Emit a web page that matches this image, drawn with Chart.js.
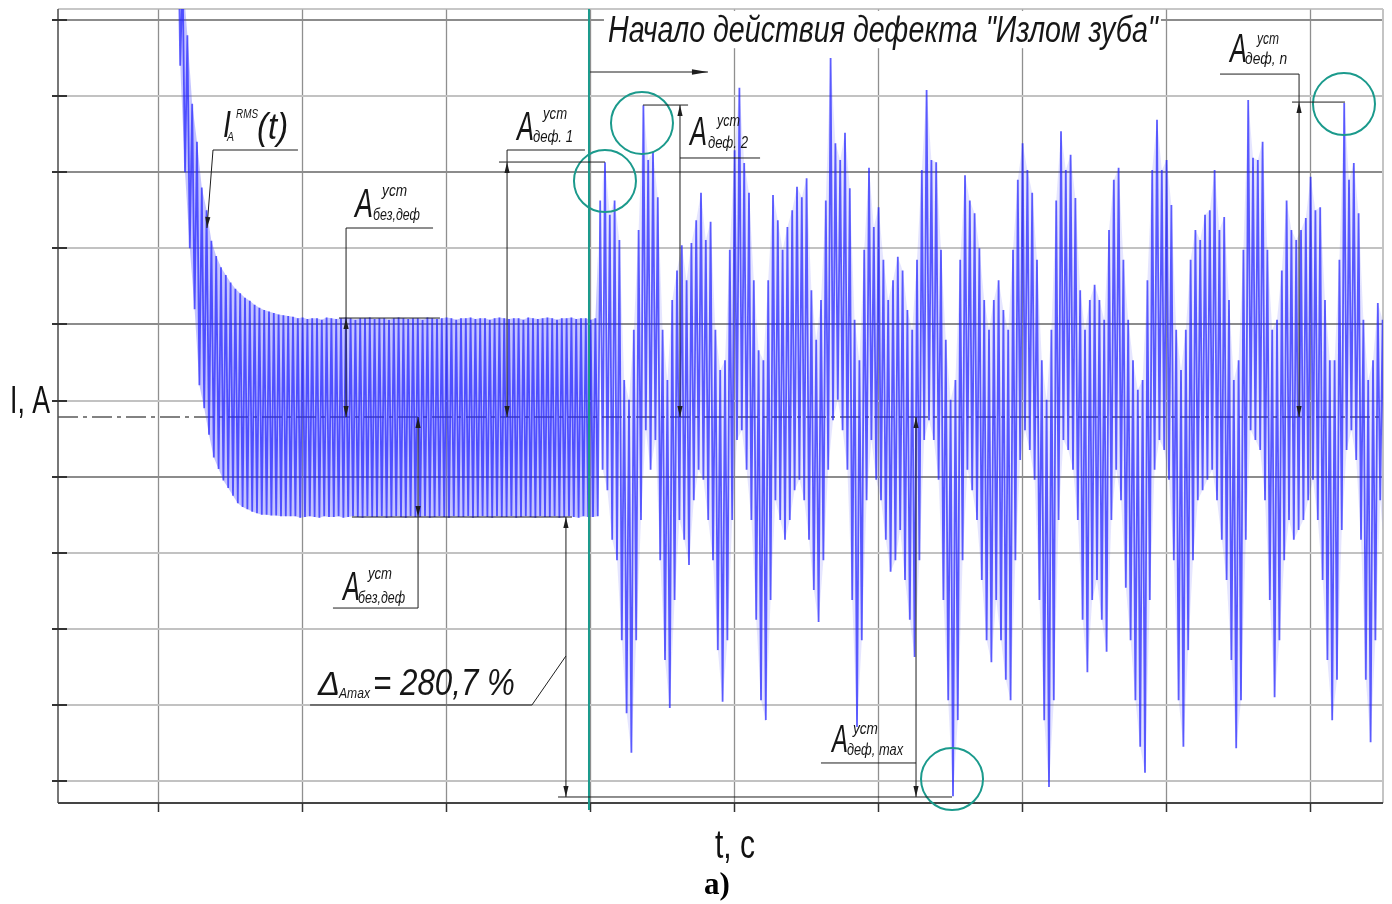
<!DOCTYPE html>
<html><head><meta charset="utf-8">
<script src="https://cdn.jsdelivr.net/npm/chart.js@4.4.1/dist/chart.umd.min.js"></script>
<style>html,body{margin:0;padding:0;background:#fff;overflow:hidden}canvas{display:block}</style>
</head><body><canvas id="c" width="1392" height="904"></canvas>
<script>
// ---------- DATA (grid units: x gridlines every 10, y gridlines every 10) ----------
const xGridTicks = [0,10,20,30,40,50,60,70,80];
const yGridTicks = [0,10,20,30,40,50,60,70,80,90,100];
const sampleStart = 1.375;      // time of first sample
const sampleStep = 1/6;         // time between successive extrema
// start-up transient: successive maxima / minima of I_A(t)
const transientPeaks = [118,106,98,89,84,78,75,71,69,67.5,66.5,65.5,64.7,64.1,63.5,63.1,62.6,62.2,61.9,61.7,61.5,61.3,61.2,61.1,61.0];
const transientTroughs = [94,80,70,62,52,49,45.5,42.5,41,39.5,38.5,37.5,36.5,36,35.7,35.4,35.2,35,35,34.9,34.9,34.8,34.8,34.8];
// steady state without defect
const steadyPeaks = [60.8,60.9,60.7,60.8,60.8,60.6,60.9,60.8,60.7,60.8,60.9,60.8,60.6,60.8,60.8,60.9,60.7,60.8,60.8,60.6,60.8,60.9,60.8,60.7,60.8,60.8,60.6,60.9,60.8,60.7,60.8,60.9,60.8,60.6,60.8,60.8,60.9,60.7,60.8,60.8,60.6,60.8,60.9,60.8,60.7,60.8,60.8,60.6,60.9,60.8,60.7,60.8,60.9,60.8,60.6,60.8,60.8,60.9,60.7,60.8,60.8,60.6,60.8];
const steadyTroughs = [34.8,34.6,34.7,34.8,34.7,34.6,34.8,34.7,34.7,34.8,34.6,34.7,34.8,34.7,34.6,34.8,34.7,34.7,34.8,34.6,34.7,34.8,34.7,34.6,34.8,34.7,34.7,34.8,34.6,34.7,34.8,34.7,34.6,34.8,34.7,34.7,34.8,34.6,34.7,34.8,34.7,34.6,34.8,34.7,34.7,34.8,34.6,34.7,34.8,34.7,34.6,34.8,34.7,34.7,34.8,34.6,34.7,34.8,34.7,34.6,34.8,34.7,34.7,34.8];
// after the "tooth fracture" defect starts
const defectPeaks = [
76.3,81.3,74.4,76.3,71.1,52.7,50.1,59.3,72.4,88.8,
81.6,82.7,76.7,59.3,52.7,63.2,67.1,70.4,65.8,70.7,
73.7,77.3,71.1,73.5,59.3,54.0,55.3,69.8,82.9,91.1,
81.2,77.3,65.8,56.6,55.3,65.8,77.0,73.7,69.8,72.8,
75.0,78.1,76.7,79.2,64.5,58.0,63.2,76.3,95.0,83.8,
81.6,85.2,77.9,60.6,55.3,69.8,80.6,72.8,75.4,68.5,
63.2,65.8,68.9,67.1,61.9,59.3,68.5,80.3,90.8,81.6,
81.3,69.8,58.0,50.1,52.7,68.5,79.6,76.3,74.6,70.0,
63.2,59.3,63.2,65.8,61.9,59.3,69.8,79.0,83.8,80.3,
77.3,68.5,55.3,50.1,59.3,76.3,85.4,80.3,82.3,76.6,
64.5,59.3,63.2,65.2,63.2,60.6,72.4,79.0,80.6,68.5,
60.6,55.3,51.4,52.7,65.8,80.3,86.9,80.3,81.6,75.7,
59.3,54.0,59.3,68.5,72.4,71.1,74.4,75.0,80.3,72.4,
74.1,63.2,52.7,55.3,69.8,89.5,81.9,81.6,84.0,69.8,
59.3,60.6,67.1,76.3,72.4,71.1,72.4,74.0,79.4,75.0,
75.4,63.2,55.3,55.3,68.5,89.1,79.0,81.2,74.6,60.6,
52.7,55.3,62.8,60.6];
const defectTroughs = [
40.9,38.2,31.7,29.0,18.5,8.9,3.7,18.5,34.3,46.1,
40.9,44.8,29.0,15.9,9.6,23.8,34.3,31.7,28.4,36.9,
40.9,39.6,34.3,29.0,17.2,10.4,18.5,34.3,44.8,46.1,
40.9,34.3,21.2,10.6,8.0,23.8,36.9,34.3,31.7,34.3,
38.2,39.6,36.9,31.7,25.1,20.9,29.0,40.9,47.4,50.1,
46.1,40.9,23.8,7.1,18.5,36.9,44.8,39.6,36.9,31.7,
27.5,29.0,33.0,26.4,21.2,16.3,29.0,44.8,47.4,44.8,
39.6,23.8,10.6,-2.0,8.0,29.0,40.9,38.2,34.3,26.4,
18.5,15.6,23.8,18.5,13.3,10.6,29.0,42.2,46.1,43.5,
39.6,23.8,8.0,-0.8,10.6,34.3,44.8,43.5,40.9,34.3,
21.2,14.3,23.8,26.4,21.2,17.0,34.3,40.9,36.9,25.4,
18.5,10.6,4.5,1.1,23.8,40.9,44.8,43.5,39.6,29.0,
10.6,4.5,17.2,29.0,36.9,38.2,39.6,40.9,36.9,31.7,
26.4,15.9,4.3,10.6,31.7,46.1,44.8,43.5,36.9,23.8,
11.0,18.5,29.0,34.3,31.7,33.0,34.3,36.9,39.6,34.3,
26.4,15.9,8.0,13.3,33.0,43.5,46.1,42.2,31.7,13.3,
5.1,18.5,36.9,29.0];
const steadyLevel = 47.83;   // dash-dot mean line
const defectStart = 29.93;   // start of the defect (teal line)
const titleText = 'Начало действия дефекта "Излом зуба"';
const xAxisTitle = 't, c';
const yAxisTitle = 'I, A';
const captionText = 'а)';

// ---------- build series ----------
const peaks = [...transientPeaks, ...steadyPeaks, ...defectPeaks];
const troughs = [...transientTroughs, ...steadyTroughs, ...defectTroughs];
const series = [];
for (let k = 0; k < peaks.length; k++) { series.push(peaks[k]); if (k < troughs.length) series.push(troughs[k]); }
const points = series.map((v, i) => ({ x: sampleStart + i * sampleStep, y: v }));
const nLeft = transientPeaks.length + steadyPeaks.length;   // extrema pairs before the defect
const peakPts = peaks.map((v, k) => ({ x: sampleStart + 2*k*sampleStep, y: v }));
const troughPts = troughs.map((v, k) => ({ x: sampleStart + (2*k+1)*sampleStep, y: v }));

// ---------- helpers ----------
const X = (c, t) => c.scales.x.getPixelForValue(t);
const Y = (c, v) => c.scales.y.getPixelForValue(v);
function seg(ctx, c, a, b) { ctx.beginPath(); ctx.moveTo(X(c,a[0]), Y(c,a[1])); ctx.lineTo(X(c,b[0]), Y(c,b[1])); ctx.stroke(); }
function head(ctx, c, tip, from, len, half) {
  len = len || 11; half = half || 2.6;
  const x = X(c,tip[0]), y = Y(c,tip[1]), fx = X(c,from[0]), fy = Y(c,from[1]);
  let dx = x - fx, dy = y - fy; const d = Math.hypot(dx,dy) || 1; dx /= d; dy /= d;
  const bx = x - dx*len, by = y - dy*len;
  ctx.beginPath(); ctx.moveTo(x,y); ctx.lineTo(bx - dy*half, by + dx*half); ctx.lineTo(bx + dy*half, by - dx*half); ctx.closePath(); ctx.fill();
}
const FAM = '"Liberation Sans", "DejaVu Sans", Arial, sans-serif';
function txtPx(ctx, s, x, y, size, w, opt) {
  opt = opt || {};
  ctx.save();
  ctx.font = (opt.italic === false ? '' : 'italic ') + (opt.bold ? 'bold ' : '') + size + 'px ' + (opt.family || FAM);
  const m = ctx.measureText(s).width;
  ctx.translate(x, y); ctx.scale(w / m, 1);
  ctx.fillStyle = opt.color || '#161616';
  ctx.textBaseline = 'alphabetic';
  ctx.fillText(s, 0, 0);
  ctx.restore();
}
const txt = (ctx, c, s, t, v, size, w, opt) => txtPx(ctx, s, X(c,t), Y(c,v), size, w, opt);
function labelA(ctx, c, a, sup, sub) {
  txt(ctx, c, 'A', a[0], a[1], a[2], a[3]);
  txt(ctx, c, 'уст', sup[0], sup[1], 16, sup[2]);
  txt(ctx, c, sub[0], sub[1], sub[2], 16, sub[3]);
}

const backdrop = {
  id: 'backdrop',
  beforeDatasetsDraw(c) {
    const ctx = c.ctx, a = c.chartArea;
    ctx.save();
    ctx.setLineDash([]);
    ctx.strokeStyle = '#8f8f8f'; ctx.lineWidth = 1.3;
    xGridTicks.forEach(t => { const x = Math.round(X(c,t)) + 0.5; ctx.beginPath(); ctx.moveTo(x, a.top); ctx.lineTo(x, a.bottom); ctx.stroke(); });
    yGridTicks.forEach(v => {
      const y = Math.round(Y(c,v));
      ctx.strokeStyle = (v === 100 || v === 80 || v === 60 || v === 40) ? '#8c8c8c' : '#c2c2c2';
      ctx.lineWidth = 2;
      ctx.beginPath(); ctx.moveTo(a.left, y); ctx.lineTo(a.right, y); ctx.stroke();
    });
    ctx.strokeStyle = '#5a5a5a'; ctx.lineWidth = 1.6; ctx.setLineDash([20,5,4,5]);
    const ym = Math.round(Y(c,steadyLevel));
    ctx.beginPath(); ctx.moveTo(a.left, ym); ctx.lineTo(a.right, ym); ctx.stroke();
    ctx.setLineDash([]);
    ctx.strokeStyle = '#b5b5b5'; ctx.lineWidth = 1.5;
    ctx.beginPath(); ctx.moveTo(a.left, a.top); ctx.lineTo(a.right, a.top); ctx.stroke();
    ctx.strokeStyle = '#c4c4c4'; ctx.lineWidth = 2;
    ctx.beginPath(); ctx.moveTo(a.right, a.top); ctx.lineTo(a.right, a.bottom); ctx.stroke();
    ctx.strokeStyle = '#555'; ctx.lineWidth = 1.6;
    ctx.beginPath(); ctx.moveTo(a.left, a.top); ctx.lineTo(a.left, a.bottom); ctx.stroke();
    ctx.strokeStyle = '#444'; ctx.lineWidth = 2;
    ctx.beginPath(); ctx.moveTo(a.left, a.bottom); ctx.lineTo(a.right, a.bottom); ctx.stroke();
    ctx.strokeStyle = '#333'; ctx.lineWidth = 2;
    yGridTicks.forEach(v => { const y = Math.round(Y(c,v)); ctx.beginPath(); ctx.moveTo(a.left - 6, y); ctx.lineTo(a.left + 9, y); ctx.stroke(); });
    ctx.lineWidth = 1.5;
    xGridTicks.forEach(t => { const x = Math.round(X(c,t)) + 0.5; ctx.beginPath(); ctx.moveTo(x, a.bottom); ctx.lineTo(x, a.bottom + 9); ctx.stroke(); });
    ctx.fillStyle = '#fff';
    const x1 = X(c,30.97), x2 = X(c,69.65), y1 = Y(c,101.2), y2 = Y(c,96.3);
    ctx.fillRect(x1, y1, x2 - x1, y2 - y1);
    ctx.restore();
  },
  afterDatasetsDraw(c) {
    const ctx = c.ctx, a = c.chartArea;
    ctx.save();
    ctx.strokeStyle = '#1b9a8c'; ctx.lineWidth = 2;
    seg(ctx, c, [defectStart, 101.45], [defectStart, -3.8]);
    ctx.lineWidth = 2;
    [[31.04,78.84],[33.61,86.47],[55.14,0.26],[82.36,88.96]].forEach(p => {
      ctx.beginPath(); ctx.arc(X(c,p[0]), Y(c,p[1]), 31, 0, Math.PI*2); ctx.stroke();
    });
    ctx.strokeStyle = '#1e1e1e'; ctx.fillStyle = '#1e1e1e'; ctx.lineWidth = 1;
    const L = (p, q) => seg(ctx, c, p, q);
    L([3.82,82.92],[9.72,82.92]); L([3.82,82.92],[3.40,72.67]); head(ctx, c, [3.40,72.67],[3.82,82.92]);
    L([13.06,72.67],[19.10,72.67]); L([13.06,72.67],[13.06,steadyLevel]); L([12.57,60.84],[19.58,60.84]);
    head(ctx, c, [13.06,60.84],[13.06,50]); head(ctx, c, [13.06,steadyLevel],[13.06,60]);
    L([24.24,82.92],[29.65,82.92]); L([24.24,82.92],[24.24,steadyLevel]); L([23.68,81.34],[31.04,81.34]);
    head(ctx, c, [24.24,81.34],[24.24,60]); head(ctx, c, [24.24,steadyLevel],[24.24,60]);
    L([12.15,22.73],[18.06,22.73]); L([18.06,22.73],[18.06,steadyLevel]); L([13.47,34.69],[28.75,34.69]);
    head(ctx, c, [18.06,steadyLevel],[18.06,40]); head(ctx, c, [18.06,34.69],[18.06,45]);
    L([28.33,34.69],[28.33,-2.10]); head(ctx, c, [28.33,34.69],[28.33,20]); head(ctx, c, [28.33,-2.10],[28.33,10]);
    L([27.78,-2.10],[55.14,-2.10]);
    L([10.56,9.99],[25.97,9.99]); L([25.97,9.99],[28.33,16.43]);
    L([46.04,2.37],[52.64,2.37]); L([52.64,steadyLevel],[52.64,-2.10]);
    head(ctx, c, [52.64,steadyLevel],[52.64,30]); head(ctx, c, [52.64,-2.10],[52.64,10]);
    L([33.68,88.83],[36.81,88.83]); L([36.25,88.83],[36.25,steadyLevel]); L([36.25,81.87],[41.81,81.87]);
    head(ctx, c, [36.25,88.83],[36.25,70]); head(ctx, c, [36.25,steadyLevel],[36.25,60]);
    L([73.75,92.90],[79.24,92.90]); L([79.24,92.90],[79.24,steadyLevel]); L([78.75,89.22],[82.43,89.22]);
    head(ctx, c, [79.24,89.22],[79.24,70]); head(ctx, c, [79.24,steadyLevel],[79.24,60]);
    L([30.0,93.17],[38.19,93.17]); head(ctx, c, [38.19,93.17],[30,93.17], 16, 2.8);

    txt(ctx, c, titleText, 31.25, 97.11, 36, 550);
    txt(ctx, c, 'I', 4.51, 84.63, 36, 8);
    txt(ctx, c, 'RMS', 5.42, 87.12, 12, 22);
    txt(ctx, c, 'A', 4.79, 84.10, 12, 7);
    txt(ctx, c, '(t)', 6.88, 84.36, 36, 31);
    labelA(ctx, c, [13.68,74.11,40,18], [15.56,76.87,25], ['без,деф',14.93,73.72,47]);
    labelA(ctx, c, [24.93,84.23,40,17], [26.74,86.99,24], ['деф. 1',26.04,83.97,40]);
    labelA(ctx, c, [36.94,83.57,40,17], [38.82,86.07,23], ['деф. 2',38.19,83.18,40]);
    labelA(ctx, c, [74.44,94.48,40,17], [76.32,96.85,22], ['деф, n',75.49,94.22,42]);
    labelA(ctx, c, [12.85,23.78,40,17], [14.58,26.54,24], ['без,деф',13.89,23.39,47]);
    labelA(ctx, c, [46.81,3.81,38,16], [48.26,6.18,25], ['деф, max',47.85,3.42,56]);
    txt(ctx, c, 'Δ', 11.11, 11.30, 34, 22);
    txt(ctx, c, 'Amax', 12.57, 10.91, 15, 31);
    txt(ctx, c, '= 280,7 %', 14.93, 11.30, 36, 142);
    txtPx(ctx, yAxisTitle, a.left - 48, Math.round(Y(c,50)) + 12, 38, 40, {italic:false, color:'#111'});
    txtPx(ctx, xAxisTitle, X(c,40) - 19, a.bottom + 55, 40, 40, {italic:false, color:'#111'});
    ctx.font = 'bold 31px "Liberation Serif", "Times New Roman", serif';
    ctx.fillStyle = '#000'; ctx.textAlign = 'center'; ctx.textBaseline = 'alphabetic';
    ctx.fillText(captionText, X(c,40) - 17, a.bottom + 91);
    ctx.restore();
  }
};

const envStyle = { borderWidth: 0, pointRadius: 0, tension: 0 };
new Chart(document.getElementById('c'), {
  type: 'line',
  data: { datasets: [
    { data: points, borderColor: 'rgba(35,35,255,0.72)', borderWidth: 1.8, pointRadius: 0, tension: 0, fill: false },
    Object.assign({ data: peakPts.slice(0, nLeft + 1), fill: '+1', backgroundColor: 'rgba(70,70,255,0.32)' }, envStyle),
    Object.assign({ data: troughPts.slice(0, nLeft), fill: false }, envStyle),
    Object.assign({ data: peakPts.slice(nLeft), fill: '+1', backgroundColor: 'rgba(70,70,255,0.14)' }, envStyle),
    Object.assign({ data: troughPts.slice(nLeft), fill: false }, envStyle)
  ] },
  options: {
    responsive: false, animation: false, devicePixelRatio: 1,
    layout: { padding: { left: 58, right: 9, top: 9, bottom: 101 } },
    plugins: { legend: { display: false }, tooltip: { enabled: false } },
    scales: {
      x: { type: 'linear', display: false, min: -6.944, max: 85.069 },
      y: { type: 'linear', display: false, min: -2.89, max: 101.45 }
    }
  },
  plugins: [backdrop]
});
</script>
</body></html>
